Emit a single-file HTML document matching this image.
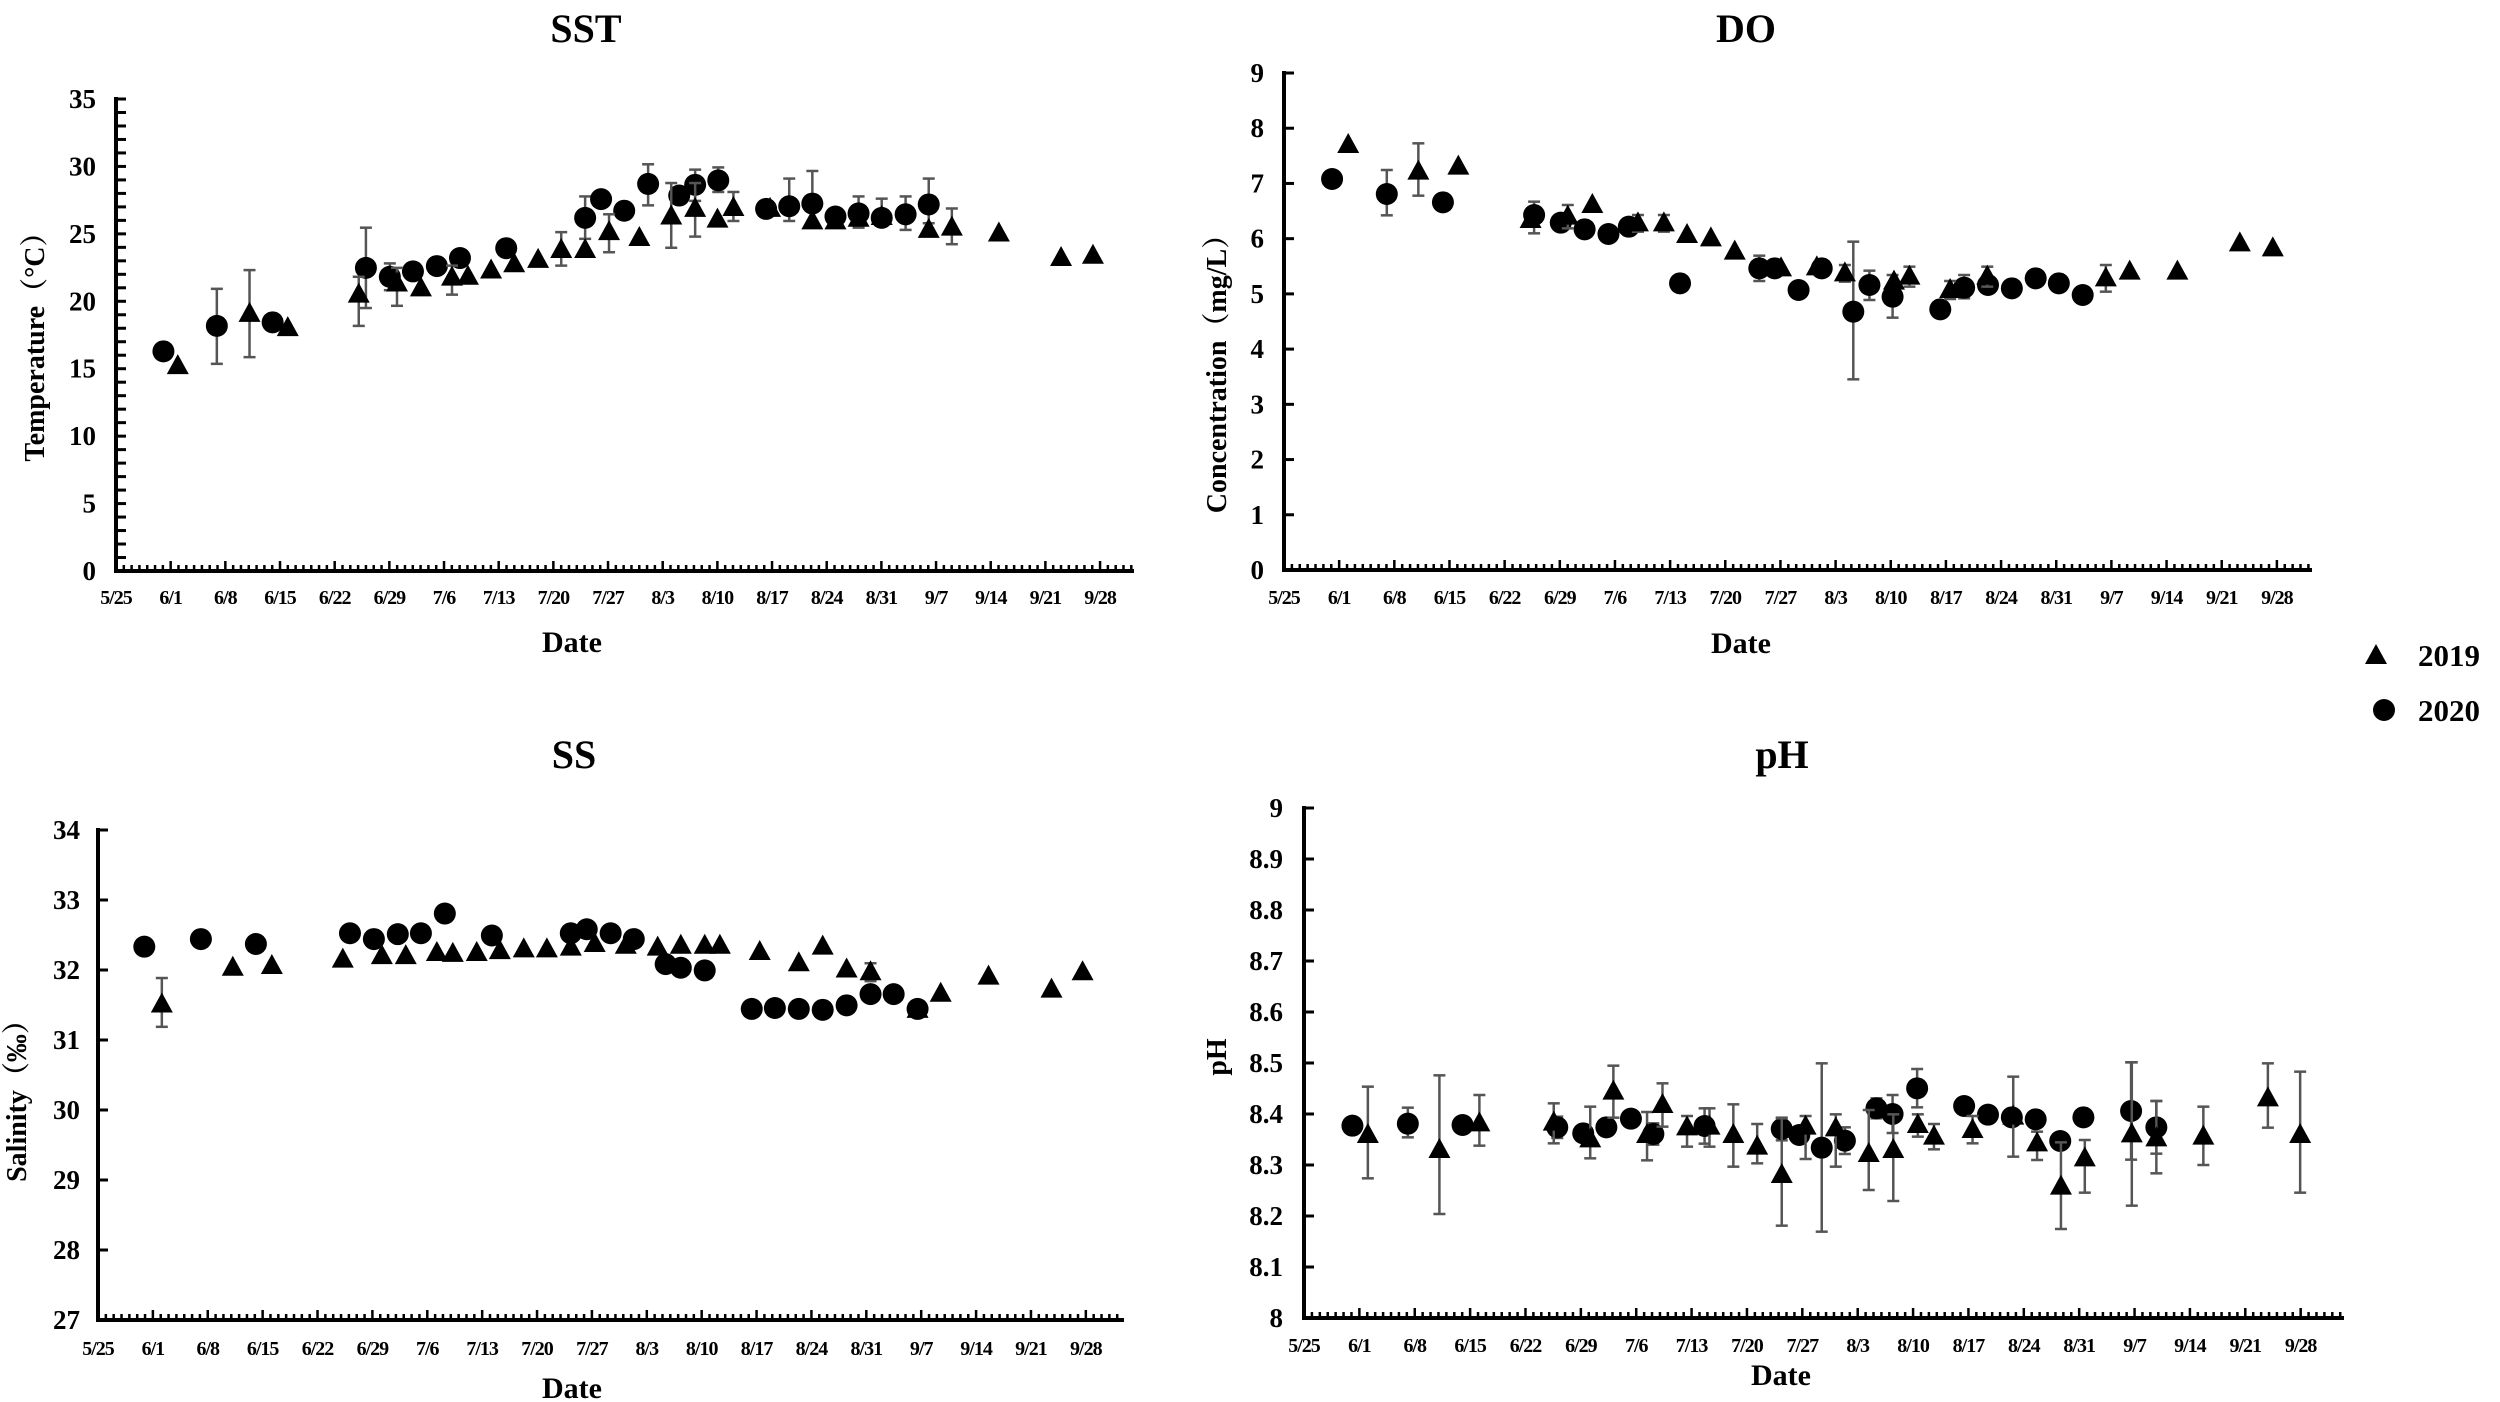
<!DOCTYPE html>
<html><head><meta charset="utf-8"><style>
html,body{margin:0;padding:0;background:#fff;}
svg{display:block;font-family:"Liberation Serif","Noto Serif CJK SC",serif;font-weight:bold;}
</style></head><body>
<svg id="s" xmlns="http://www.w3.org/2000/svg" width="2500" height="1402" viewBox="0 0 2500 1402"></svg>
<script>
const S=document.getElementById('s');let h='';
const dates=['5/25','6/1','6/8','6/15','6/22','6/29','7/6','7/13','7/20','7/27','8/3','8/10','8/17','8/24','8/31','9/7','9/14','9/21','9/28'];
function panel(p){
  const {ax,y0,y1,vmin,vmax,step,minor,dp,xend,fmt,tlx,tly}=p;
  h+=`<line x1="${ax}" y1="${y0}" x2="${xend}" y2="${y0}" stroke="#000" stroke-width="4"/>`;
  h+=`<line x1="${ax}" y1="${y0+2}" x2="${ax}" y2="${y1-2}" stroke="#000" stroke-width="4"/>`;
  const n=Math.round((vmax-vmin)/minor);
  for(let i=0;i<=n;i++){const v=vmin+i*minor;const y=y0-(y0-y1)*i/n;
    h+=`<line x1="${ax}" y1="${y}" x2="${ax+10}" y2="${y}" stroke="#000" stroke-width="3"/>`;
    const k=Math.round((v-vmin)/step*1000)/1000;
    if(Math.abs(k-Math.round(k))<1e-6) h+=`<text x="${tlx}" y="${y+9}" font-size="27" text-anchor="end">${fmt(v)}</text>`;}
  for(let d=0;ax+d*dp<=xend;d++){const x=ax+d*dp;const L=d%7==0?10:6;
    h+=`<line x1="${x}" y1="${y0}" x2="${x}" y2="${y0-L}" stroke="#000" stroke-width="2.5"/>`;}
  dates.forEach((t,i)=>{h+=`<text x="${ax+i*7*dp}" y="${tly}" font-size="20" text-anchor="middle" letter-spacing="-1">${t}</text>`;});
}
function tri(x,y){h+=`<polygon points="${x},${y-12} ${x-11},${y+8} ${x+11},${y+8}" fill="#000"/>`;}
function cir(x,y){h+=`<circle cx="${x}" cy="${y}" r="11" fill="#000"/>`;}
function err(x,a,b){h+=`<g stroke="#555" stroke-width="2.5"><line x1="${x}" y1="${a}" x2="${x}" y2="${b}"/><line x1="${x-6}" y1="${a}" x2="${x+6}" y2="${a}"/><line x1="${x-6}" y1="${b}" x2="${x+6}" y2="${b}"/></g>`;}
function series(pts,fx,fy,kind){pts.forEach(p=>{const x=fx(p[0]),y=fy(p[1]);if(p.length>2){const a=fy(p[2]);const b=p.length>3?fy(p[3]):2*y-a;err(x,a,b);}
  kind=='t'?tri(x,y):cir(x,y);});}
const f0=v=>String(v), f1=v=>v.toFixed(1).replace(/\.0$/,'');
// SST
panel({ax:116,y0:571,y1:99,vmin:0,vmax:35,step:5,minor:1,dp:7.81,xend:1134,fmt:f0,tlx:96,tly:604});
h+=`<text x="586" y="42" font-size="40" text-anchor="middle">SST</text>`;
h+=`<text x="572" y="652" font-size="30" text-anchor="middle">Date</text>`;
h+=`<text transform="translate(44,340) rotate(-90)" font-size="28" text-anchor="middle">Temperature（°C）</text>`;
{const fx=d=>d/1.2544,fy=d=>d/2.24;
series([[272,730,647,815],[459,600,510,690],[489,620,590,650],[734,488,440,535],[813,412,368,460],[872,414,380,450],[901,404,375,430],[990,462,400,495],[1019,456,383,500],[1077,478,440,510],[1106,488,445,505],[1136,480,440,515],[1165,458,400,500],
[205,787],[342,722],[518,608],[548,596],[577,578],[635,556],[754,446],[783,472],[852,438],[961,468],[1048,485]],fx,fy,'c');
series([[313,703,605,800],[450,660,620,730],[498,635,600,685],[567,622,595,660],[704,560,520,595],[764,520,480,565],[842,485,410,555],[872,468,410,530],[920,466,430,495],[1194,510,467,547],
[223,820],[361,735],[528,646],[587,620],[616,606],[645,592],[675,582],[734,560],[802,533],[900,492],[966,468],[1019,496],[1048,496],[1077,490],[1106,486],[1165,515],[1253,523],[1331,578],[1371,573]],fx,fy,'t');}
// DO
panel({ax:1284,y0:570,y1:73,vmin:0,vmax:9,step:1,minor:1,dp:7.88,xend:2312,fmt:f0,tlx:1264,tly:604});
h+=`<text x="1746" y="42" font-size="40" text-anchor="middle">DO</text>`;
h+=`<text x="1741" y="653" font-size="30" text-anchor="middle">Date</text>`;
h+=`<text transform="translate(1226,367) rotate(-90)" font-size="28" text-anchor="middle">Concentration（mg/L）</text>`;
{const fx=d=>1250+d/1.4255,fy=d=>100+d/3;
series([[195,282,210,346],[405,345,305,400],[540,380,355],[726,505,467],[860,635,425,838],[883,555,512,600],[916,590,525,653],[1018,563,525,595],
[117,237],[275,307],[443,368],[477,388],[511,402],[613,550],[748,505],[782,570],[815,505],[984,628],[1052,555],[1086,565],[1120,535],[1153,550],[1187,585]],fx,fy,'c');
series([[240,215,130,287],[453,350,315],[553,370,345],[590,370,345],[848,520,495],[940,530,500],[998,570,543],[1051,530,500],[1220,535,495],
[140,135],[297,200],[400,360],[488,315],[623,405],[657,415],[691,455],[757,505],[808,502],[918,545],[1254,515],[1322,515],[1411,430],[1458,445]],fx,fy,'t');}
// SS
panel({ax:98,y0:1320,y1:830,vmin:27,vmax:34,step:1,minor:1,dp:7.84,xend:1124,fmt:f0,tlx:80,tly:1355});
h+=`<text x="574" y="768" font-size="40" text-anchor="middle">SS</text>`;
h+=`<text x="572" y="1398" font-size="30" text-anchor="middle">Date</text>`;
h+=`<text transform="translate(26,1094) rotate(-90)" font-size="28" text-anchor="middle">Salinity（‰）</text>`;
{const fx=d=>d/1.2544,fy=d=>700+d/2.2336;
series([[181,551],[252,534],[321,545],[439,521],[469,534],[499,523],[528,521],[558,477],[617,526],[716,521],[736,512],[766,521],[795,534],[835,590],[854,598],[884,604],[943,690],[972,688],[1002,690],[1032,692],[1062,682],[1092,657],[1121,657],[1151,690]],fx,fy,'c');
series([[203,680,621,730],[292,598],[341,594],[430,580],[479,572],[509,572],[548,565],[568,567],[598,565],[627,561],[657,557],[686,557],[716,553],[746,545],[785,549],[825,553],[854,549],[884,549],[903,549],[953,563],[1002,588],[1032,551],[1062,602],[1092,608,588],[1151,692],[1180,656],[1240,618],[1319,647],[1358,608]],fx,fy,'t');}
// pH
panel({ax:1304,y0:1318,y1:808,vmin:8,vmax:9,step:0.1,minor:0.1,dp:7.91,xend:2344,fmt:f1,tlx:1283,tly:1352});
h+=`<text x="1782" y="768" font-size="40" text-anchor="middle">pH</text>`;
h+=`<text x="1781" y="1385" font-size="30" text-anchor="middle">Date</text>`;
h+=`<text transform="translate(1226,1057) rotate(-90)" font-size="28" text-anchor="middle">pH</text>`;
{const fx=d=>1250+d/1.4255,fy=d=>1000+d/3;
series([[225,371,323,412],[438,382,350],[575,402,370],[648,378,325],[758,387,353],[815,443,190,695],[848,422,382],[893,325,295],[916,342,285],[951,265,207,322],[1256,333,187],[1292,382,303],
[146,377],[303,375],[475,400],[508,382],[543,356],[783,405],[1018,318],[1052,344],[1086,352],[1120,358],[1155,423],[1188,352]],fx,fy,'c');
series([[168,405,260,535],[270,450,226,642],[327,370,285,437],[433,368,310,430],[485,418,320,475],[518,275,197],[566,405,336,481],[588,315,250],[623,382,348,440],[655,380,325,440],[689,405,313,500],[723,440,372,490],[758,525,355,677],[792,380,348,477],[835,385,343,500],[882,462,330,570],[917,450,343,603],[952,375,343,410],[975,410,372],[1030,390,348,430],[1088,350,230],[1122,430,395,480],[1156,560,427,687],[1190,475,420,578],[1257,403,187,617],[1292,415,303,520],[1359,410,320,495],[1451,295,190,383],[1497,405,215,578]],fx,fy,'t');}
// legend
tri(2376,656);cir(2384,710);
h+=`<text x="2418" y="666" font-size="31">2019</text><text x="2418" y="721" font-size="31">2020</text>`;
S.innerHTML=h;
</script>
</body></html>
